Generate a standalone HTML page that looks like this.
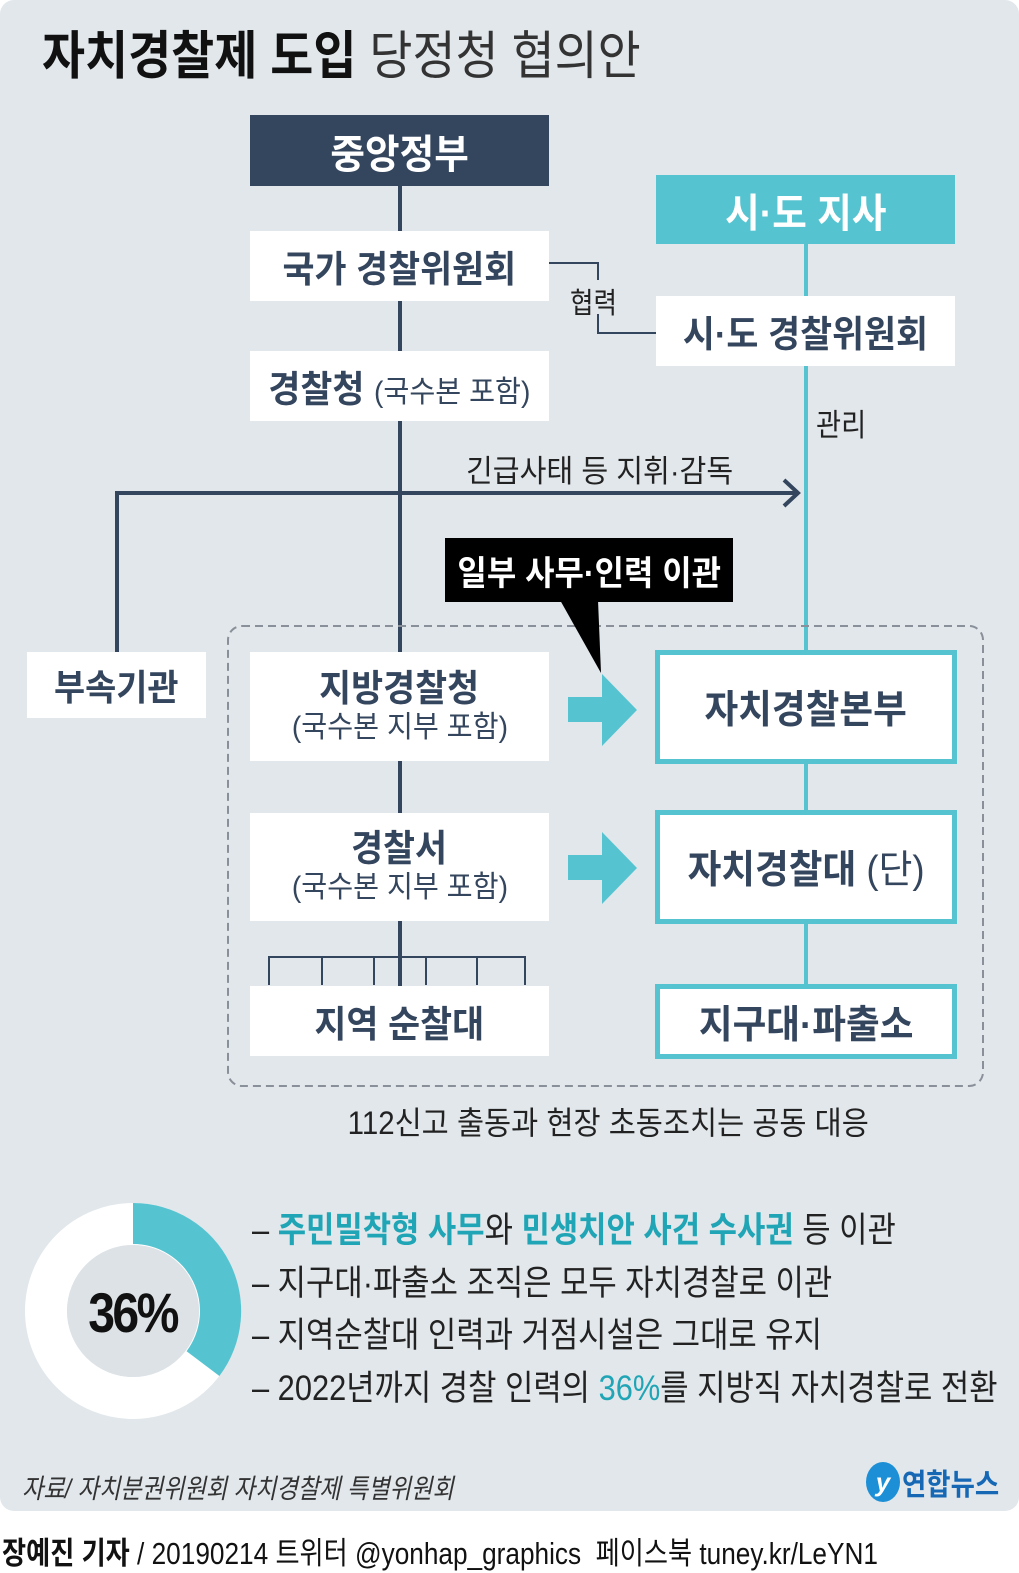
<!DOCTYPE html>
<html><head><meta charset="utf-8">
<style>
*{margin:0;padding:0;box-sizing:border-box}
body{width:1019px;height:1568px;background:#fff;position:relative;overflow:hidden;font-family:"Liberation Sans","Noto Sans CJK KR",sans-serif}
.panel{position:absolute;left:0;top:0;width:1019px;height:1511px;background:#e1e7eb;border-radius:14px}
.a{position:absolute}
.box{position:absolute;display:flex;flex-direction:column;align-items:center;justify-content:center;background:#fff;color:#34455e;font-weight:bold}
.c{display:inline-block;transform:scaleX(.94);white-space:nowrap}
.cl{display:inline-block;transform:scaleX(.88);transform-origin:left center;white-space:nowrap}
.tb{border:5px solid #56c4d0}
</style></head><body>
<div class="panel"></div>

<div class="a" style="left:42px;top:22px;font-size:52px;color:#111;line-height:70px"><span class="cl" style="transform:scaleX(.9)"><b>자치경찰제 도입</b> <span style="font-weight:normal;color:#333">당정청 협의안</span></span></div>

<svg class="a" style="left:0;top:0" width="1019" height="1511">
 <line x1="400" y1="186" x2="400" y2="986" stroke="#34455e" stroke-width="4"/>
 <line x1="806" y1="244" x2="806" y2="986" stroke="#56c4d0" stroke-width="4"/>
 <polyline points="549,263 598,263 598,333 656,333" fill="none" stroke="#34455e" stroke-width="2"/>
 <rect x="570" y="280" width="56" height="34" fill="#e1e7eb"/>
 <polyline points="117,652 117,493 797,493" fill="none" stroke="#34455e" stroke-width="4"/>
 <polyline points="784,480 798,493 784,506" fill="none" stroke="#34455e" stroke-width="4"/>
 <rect x="228" y="626" width="755" height="460" rx="14" fill="none" stroke="#8a9099" stroke-width="2" stroke-dasharray="8,5"/>
 <polyline points="269,985 269,957 525,957 525,985" fill="none" stroke="#34455e" stroke-width="2"/>
 <g stroke="#34455e" stroke-width="2"><line x1="322" y1="957" x2="322" y2="985"/><line x1="374" y1="957" x2="374" y2="985"/><line x1="426" y1="957" x2="426" y2="985"/><line x1="477" y1="957" x2="477" y2="985"/></g>
 <polygon points="568,697 602,697 602,674 637,710 602,746 602,722 568,722" fill="#56c4d0"/>
 <polygon points="568,855 602,855 602,832 637,868 602,904 602,880 568,880" fill="#56c4d0"/>
 <rect x="445" y="538" width="288" height="64" fill="#000"/>
 <polygon points="560,600 598,600 601,673" fill="#000"/>
 <circle cx="133" cy="1311" r="87" fill="none" stroke="#fff" stroke-width="42"/>
 <path d="M133,1203 A108,108 0 0 1 219.4,1376 L186.6,1351.2 A67,67 0 0 0 133,1244 Z" fill="#56c4d0"/>
 <circle cx="133" cy="1311" r="66" fill="#dde2e7"/>
</svg>

<div class="box" style="left:250px;top:115px;width:299px;height:71px;background:#34455e;color:#fff;font-size:40px"><span class="c">중앙정부</span></div>
<div class="box" style="left:656px;top:175px;width:299px;height:69px;background:#56c4d0;color:#fff;font-size:40px"><span class="c">시·도 지사</span></div>
<div class="box" style="left:250px;top:231px;width:299px;height:70px;font-size:37px"><span class="c">국가 경찰위원회</span></div>
<div class="box" style="left:656px;top:296px;width:299px;height:70px;font-size:37px"><span class="c">시·도 경찰위원회</span></div>
<div class="box" style="left:250px;top:351px;width:299px;height:70px;font-size:37px"><span class="c">경찰청 <span style="font-weight:normal;font-size:30px">(국수본 포함)</span></span></div>
<div class="a" style="left:570px;top:280px;font-size:29px;color:#222"><span class="cl">협력</span></div>
<div class="a" style="left:816px;top:400px;font-size:31px;color:#222"><span class="cl">관리</span></div>
<div class="a" style="left:466px;top:446px;font-size:31px;color:#222"><span class="cl" style="transform:scaleX(.94)">긴급사태 등 지휘·감독</span></div>
<div class="box" style="left:27px;top:652px;width:179px;height:66px;font-size:36px"><span class="c">부속기관</span></div>
<div class="a" style="left:445px;top:538px;width:288px;height:64px;display:flex;align-items:center;justify-content:center;color:#fff;font-weight:bold;font-size:34px"><span class="c">일부 사무·인력 이관</span></div>

<div class="box" style="left:250px;top:652px;width:299px;height:109px;font-size:37px;line-height:42px"><span class="c">지방경찰청</span><span class="c" style="font-weight:normal;font-size:30px;line-height:36px">(국수본 지부 포함)</span></div>
<div class="box" style="left:250px;top:813px;width:299px;height:108px;font-size:37px;line-height:42px"><span class="c">경찰서</span><span class="c" style="font-weight:normal;font-size:30px;line-height:36px">(국수본 지부 포함)</span></div>
<div class="box" style="left:250px;top:986px;width:299px;height:70px;font-size:37px"><span class="c">지역 순찰대</span></div>
<div class="box tb" style="left:655px;top:650px;width:302px;height:114px;font-size:39px"><span class="c">자치경찰본부</span></div>
<div class="box tb" style="left:655px;top:810px;width:302px;height:114px;font-size:39px"><span class="c">자치경찰대 <span style="font-weight:normal">(단)</span></span></div>
<div class="box tb" style="left:655px;top:984px;width:302px;height:75px;font-size:39px"><span class="c">지구대·파출소</span></div>

<div class="a" style="left:0;top:1098px;width:1216px;text-align:center;font-size:32px;color:#222"><span class="c" style="transform:scaleX(.92)">112신고 출동과 현장 초동조치는 공동 대응</span></div>

<div class="a" style="left:63px;top:1280px;width:140px;text-align:center;font-size:56px;font-weight:bold;color:#111;letter-spacing:-3px"><span class="c" style="transform:scaleX(.86)">36%</span></div>

<div class="a" style="left:252px;top:1205px;font-size:35px;color:#222;line-height:52.5px">
<div><span class="cl">– <b style="color:#1fa5b5">주민밀착형 사무</b>와 <b style="color:#1fa5b5">민생치안 사건 수사권</b> 등 이관</span></div>
<div><span class="cl">– 지구대·파출소 조직은 모두 자치경찰로 이관</span></div>
<div><span class="cl">– 지역순찰대 인력과 거점시설은 그대로 유지</span></div>
<div><span class="cl">– 2022년까지 경찰 인력의 <span style="color:#1fa5b5">36%</span>를 지방직 자치경찰로 전환</span></div>
</div>

<div class="a" style="left:22px;top:1467px;font-size:27px;color:#333;font-style:italic"><span class="cl" style="transform:scaleX(.86)">자료/ 자치분권위원회 자치경찰제 특별위원회</span></div>
<div class="a" style="left:866px;top:1462px;width:34px;height:40px;border-radius:50%;background:#1c8fd6;color:#fff;font-style:italic;font-weight:bold;font-size:26px;text-align:center;line-height:40px">y</div>
<div class="a" style="left:902px;top:1460px;font-size:30px;font-weight:bold;color:#1668b5"><span class="cl">연합뉴스</span></div>

<div class="a" style="left:2px;top:1528px;font-size:31px;color:#111"><span class="cl" style="transform:scaleX(.845)"><b>장예진 기자</b> / 20190214 트위터 @yonhap_graphics &nbsp;페이스북 tuney.kr/LeYN1</span></div>
</body></html>
